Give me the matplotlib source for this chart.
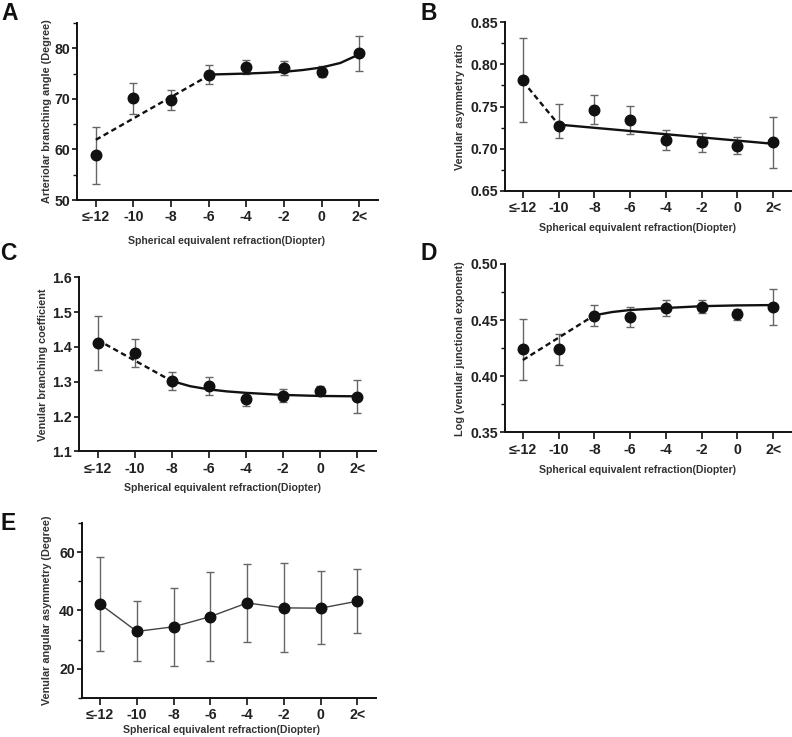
import matplotlib
matplotlib.use("Agg")
import matplotlib.pyplot as plt
from matplotlib.ticker import MultipleLocator, FormatStrFormatter
import numpy as np

plt.rcParams['font.family'] = ['Liberation Sans', 'DejaVu Sans']

categories = ["≤-12", "-10", "-8", "-6", "-4", "-2", "0", "2<"]
xlabel_text = "Spherical equivalent refraction(Diopter)"

# Panel A: Arteriolar branching angle
a_mean = [58.8, 70.1, 69.8, 74.8, 76.3, 76.1, 75.4, 79.0]
a_low = [53.1, 67.1, 67.8, 72.9, 75.0, 74.8, 74.3, 75.5]
a_high = [64.5, 73.1, 71.7, 76.6, 77.6, 77.5, 76.4, 82.5]
a_dash_x = [0, 3]
a_dash_y = [61.9, 74.6]
a_fit_x = [3, 3.5, 4, 4.5, 5, 5.5, 6, 6.5, 7]
a_fit_y = [74.8, 74.9, 75.0, 75.15, 75.35, 75.7, 76.2, 77.1, 78.8]

# Panel B: Venular asymmetry ratio
b_mean = [0.7815, 0.7270, 0.7459, 0.7344, 0.7102, 0.7074, 0.7035, 0.7074]
b_low = [0.7312, 0.7120, 0.7292, 0.7177, 0.6983, 0.6964, 0.6936, 0.6773]
b_high = [0.8318, 0.7530, 0.7633, 0.7510, 0.7225, 0.7181, 0.7134, 0.7376]
b_dash_x = [0, 1]
b_dash_y = [0.7800, 0.7285]
b_fit_x = [1, 7]
b_fit_y = [0.7285, 0.7057]

# Panel C: Venular branching coefficient
c_mean = [1.411, 1.382, 1.301, 1.288, 1.249, 1.260, 1.273, 1.257]
c_low = [1.333, 1.341, 1.276, 1.263, 1.229, 1.242, 1.261, 1.210]
c_high = [1.489, 1.423, 1.327, 1.314, 1.261, 1.278, 1.288, 1.304]
c_dash_x = [0, 2]
c_dash_y = [1.420, 1.302]
c_fit_x = [2, 2.5, 3, 3.5, 4, 5, 6, 7]
c_fit_y = [1.302, 1.287, 1.278, 1.272, 1.268, 1.262, 1.259, 1.258]

# Panel D: Log (venular junctional exponent)
d_mean = [0.424, 0.424, 0.454, 0.453, 0.4608, 0.462, 0.4554, 0.462]
d_low = [0.3966, 0.4097, 0.4447, 0.4441, 0.454, 0.456, 0.4504, 0.4459]
d_high = [0.451, 0.4379, 0.4632, 0.4617, 0.4679, 0.4679, 0.4602, 0.478]
d_dash_x = [0, 2]
d_dash_y = [0.4144, 0.4543]
d_fit_x = [2, 2.5, 3, 4, 5, 6, 7]
d_fit_y = [0.4543, 0.4572, 0.4590, 0.4608, 0.4624, 0.4631, 0.4634]

# Panel E: Venular angular asymmetry
e_mean = [42.2, 32.8, 34.4, 37.9, 42.6, 40.9, 40.8, 43.2]
e_low = [26.2, 22.6, 21.0, 22.7, 29.2, 25.8, 28.4, 32.3]
e_high = [58.3, 43.2, 47.9, 53.3, 55.9, 56.2, 53.5, 54.3]

W, H = 792, 737
fig = plt.figure(figsize=(W / 100, H / 100), dpi=100)


def rect(l, r, t, b):
    return [l / W, 1 - b / H, (r - l) / W, (b - t) / H]


def style_axes(ax, ylim, major, minor, fmt, ylabel, ylab_x, xlab_x, xlab_y):
    x = np.arange(len(categories))
    ax.set_xlim(-0.5, len(categories) - 0.5)
    ax.set_xticks(x)
    ax.set_xticklabels(categories)
    ax.set_ylim(*ylim)
    ax.yaxis.set_major_locator(MultipleLocator(major))
    if minor:
        ax.yaxis.set_minor_locator(MultipleLocator(minor))
    ax.yaxis.set_major_formatter(FormatStrFormatter(fmt))
    for s in ['top', 'right']:
        ax.spines[s].set_visible(False)
    for s in ['left', 'bottom']:
        ax.spines[s].set_linewidth(1.4)
        ax.spines[s].set_color('#111111')
    ax.tick_params(axis='y', which='major', length=3.8, width=1.2,
                   labelsize=10.2, pad=1.0, colors='#111111')
    ax.tick_params(axis='x', which='major', length=5, width=1.2,
                   labelsize=10.2, pad=2.5, colors='#111111')
    ax.tick_params(axis='y', which='minor', length=3, width=1.0, colors='#111111')
    for lab in ax.get_xticklabels() + ax.get_yticklabels():
        lab.set_fontweight('bold')
        lab.set_color('#222222')
    ax.set_ylabel(ylabel, fontsize=7.8, fontweight='bold', color='#333333')
    ax.yaxis.label.set_va('center')
    ax.yaxis.set_label_coords(ylab_x, 0.5)
    ax.set_xlabel(xlabel_text, fontsize=7.6, fontweight='bold', color='#333333')
    ax.xaxis.label.set_va('center')
    ax.xaxis.set_label_coords(xlab_x, xlab_y)


def draw_points(ax, mean, low, high):
    x = np.arange(len(categories))
    mean = np.array(mean)
    yerr = [mean - np.array(low), np.array(high) - mean]
    ax.errorbar(x, mean, yerr=yerr, fmt='none', ecolor='#666666',
                elinewidth=1.0, capsize=2.6, capthick=1.0, zorder=2)
    ax.plot(x, mean, 'o', color='#111111', markersize=7.6, zorder=4)


def draw_fit(ax, dx, dy, fx, fy):
    ax.plot(dx, dy, color='#111111', lw=1.7, ls=(0, (2.3, 1.5)), zorder=3)
    ax.plot(fx, fy, color='#111111', lw=1.7, zorder=3)


# A
axA = fig.add_axes(rect(77, 378, 23, 200))
draw_points(axA, a_mean, a_low, a_high)
draw_fit(axA, a_dash_x, a_dash_y, a_fit_x, a_fit_y)
style_axes(axA, (50, 85), 10, 5, '%d', "Arteriolar branching angle (Degree)",
           -0.10, 0.498, -0.232)

# B
axB = fig.add_axes(rect(505, 791, 22.3, 190.7))
draw_points(axB, b_mean, b_low, b_high)
draw_fit(axB, b_dash_x, b_dash_y, b_fit_x, b_fit_y)
style_axes(axB, (0.65, 0.85), 0.05, 0.025, '%.2f', "Venular asymmetry ratio",
           -0.157, 0.463, -0.221)

# C
axC = fig.add_axes(rect(79, 375.7, 277.3, 451.3))
draw_points(axC, c_mean, c_low, c_high)
draw_fit(axC, c_dash_x, c_dash_y, c_fit_x, c_fit_y)
style_axes(axC, (1.1, 1.6), 0.1, None, '%.1f', "Venular branching coefficient",
           -0.121, 0.482, -0.211)

# D
axD = fig.add_axes(rect(505, 791, 264, 432.3))
draw_points(axD, d_mean, d_low, d_high)
draw_fit(axD, d_dash_x, d_dash_y, d_fit_x, d_fit_y)
style_axes(axD, (0.35, 0.50), 0.05, 0.025, '%.2f', "Log (venular junctional exponent)",
           -0.157, 0.463, -0.224)

# E
axE = fig.add_axes(rect(81.7, 375.7, 523.3, 697.7))
xE = np.arange(len(categories))
eE = np.array(e_mean)
axE.errorbar(xE, eE, yerr=[eE - np.array(e_low), np.array(e_high) - eE], fmt='none',
             ecolor='#666666', elinewidth=1.0, capsize=2.6, capthick=1.0, zorder=2)
axE.plot(xE, eE, '-', color='#444444', lw=1.0, zorder=3)
axE.plot(xE, eE, 'o', color='#111111', markersize=7.6, zorder=4)
style_axes(axE, (10, 70), 20, 10, '%d', "Venular angular asymmetry (Degree)",
           -0.118, 0.477, -0.185)

# Panel letters
for letter, px, py in [("A", 1, 13), ("B", 421, 13), ("C", 0, 254), ("D", 421, 254), ("E", 0, 523)]:
    fig.text(px / W, 1 - py / H, letter, fontsize=16.5, fontweight='bold',
             ha='left', va='center', color='#111111')

fig.savefig("out.png", dpi=100, facecolor='white')
